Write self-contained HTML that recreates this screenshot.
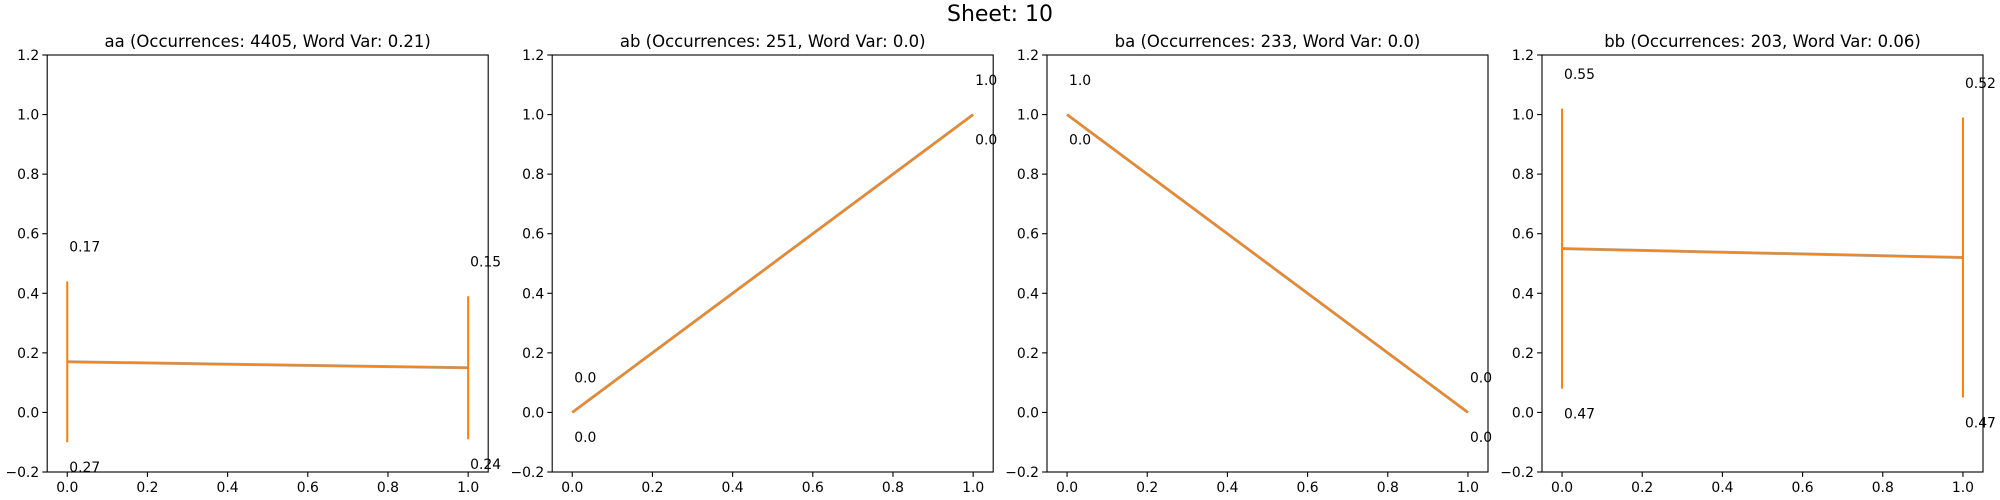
<!DOCTYPE html>
<html><head><meta charset="utf-8"><style>
body{margin:0;background:#fff}
svg{display:block;font-family:"DejaVu Sans","Liberation Sans",sans-serif}
</style></head><body>
<svg id="fig" width="2000" height="500" xmlns="http://www.w3.org/2000/svg">
<rect width="2000" height="500" fill="#fff"/>
<text x="1000" y="21" font-size="22" text-anchor="middle">Sheet: 10</text>
</svg>
<script>
const panelTitles = ["aa (Occurrences: 4405, Word Var: 0.21)","ab (Occurrences: 251, Word Var: 0.0)","ba (Occurrences: 233, Word Var: 0.0)","bb (Occurrences: 203, Word Var: 0.06)"];
const panelNames = ["aa","ab","ba","bb"];
const xCats = [0, 1];
const meansAA = [0.17, 0.15];
const stdsAA = [0.27, 0.24];
const meansAB = [0.0, 1.0];
const stdsAB = [0.0, 0.0];
const meansBA = [1.0, 0.0];
const stdsBA = [0.0, 0.0];
const meansBB = [0.55, 0.52];
const stdsBB = [0.47, 0.47];
const yTicks = [-0.2, 0.0, 0.2, 0.4, 0.6, 0.8, 1.0, 1.2];
const xTicks = [0.0, 0.2, 0.4, 0.6, 0.8, 1.0];

const allMeans = [meansAA, meansAB, meansBA, meansBB];
const allStds = [stdsAA, stdsAB, stdsBA, stdsBB];
const NS = "http://www.w3.org/2000/svg";
const svgEl = document.getElementById('fig');
function mk(tag, attrs, parent){const e=document.createElementNS(NS,tag);for(const k in attrs)e.setAttribute(k,attrs[k]);(parent||svgEl).appendChild(e);return e;}
function fmt(v){const r=Math.round(v*100)/100;let s=r.toString();if(s.indexOf('.')<0)s+='.0';return s;}

const axTop=55, axBottom=472, axW=441;
const axLefts=[47.2, 552.2, 1047, 1542];
for(let p=0;p<4;p++){
  const left=axLefts[p], right=left+axW;
  const xs=v=>left+(v+0.05)/1.1*axW;
  const ys=v=>axBottom-(v+0.2)/1.4*(axBottom-axTop);
  const g=mk('g',{});
  
  
  const t=mk('text',{x:(left+right)/2,y:47,'font-size':16.5,'text-anchor':'middle'},g);
  
  
  t.textContent=panelTitles[p];
  yTicks.forEach(v=>{
    const y=ys(v);
    mk('line',{x1:left-4.9,x2:left,y1:y,y2:y,stroke:'#000','stroke-width':1.1},g);
    const l=mk('text',{x:left-8,y:y+5,'font-size':13.9,'text-anchor':'end'},g);
    
    
    l.textContent=(v<0?'\u2212':'')+Math.abs(v).toFixed(1);
  });
  xTicks.forEach(v=>{
    const x=xs(v);
    mk('line',{x1:x,x2:x,y1:axBottom,y2:axBottom+4.9,stroke:'#000','stroke-width':1.1},g);
    const l=mk('text',{x:x,y:axBottom+20,'font-size':13.9,'text-anchor':'middle'},g);
    
    
    l.textContent=v.toFixed(1);
  });
  const m=allMeans[p], s=allStds[p];
  const pts=xCats.map((c,i)=>xs(c)+','+ys(m[i])).join(' ');
  const gl=mk('polyline',{points:pts,fill:'none',stroke:'#aaa','stroke-width':3},g);
  
  
  const ln=mk('polyline',{points:pts,fill:'none',stroke:'#f58518','stroke-width':2},g);
  
  
  xCats.forEach((c,i)=>{
    if(s[i]>0){
      const eb=mk('line',{x1:xs(c),x2:xs(c),y1:ys(m[i]-s[i]),y2:ys(m[i]+s[i]),stroke:'#ff7f0e','stroke-width':2},g);
      
      
    }
    const a=mk('text',{x:xs(c)+2,y:ys(m[i]+s[i]+0.1),'font-size':13.9},g);
    
    
    a.textContent=fmt(m[i]);
    const b=mk('text',{x:xs(c)+2,y:ys(m[i]-s[i]-0.1),'font-size':13.9},g);
    
    
    b.textContent=fmt(s[i]);
  });
  const fr=mk('rect',{x:left,y:axTop,width:axW,height:axBottom-axTop,fill:'none',stroke:'#000','stroke-width':1.1},g);
  
  
}
</script>
</body></html>
